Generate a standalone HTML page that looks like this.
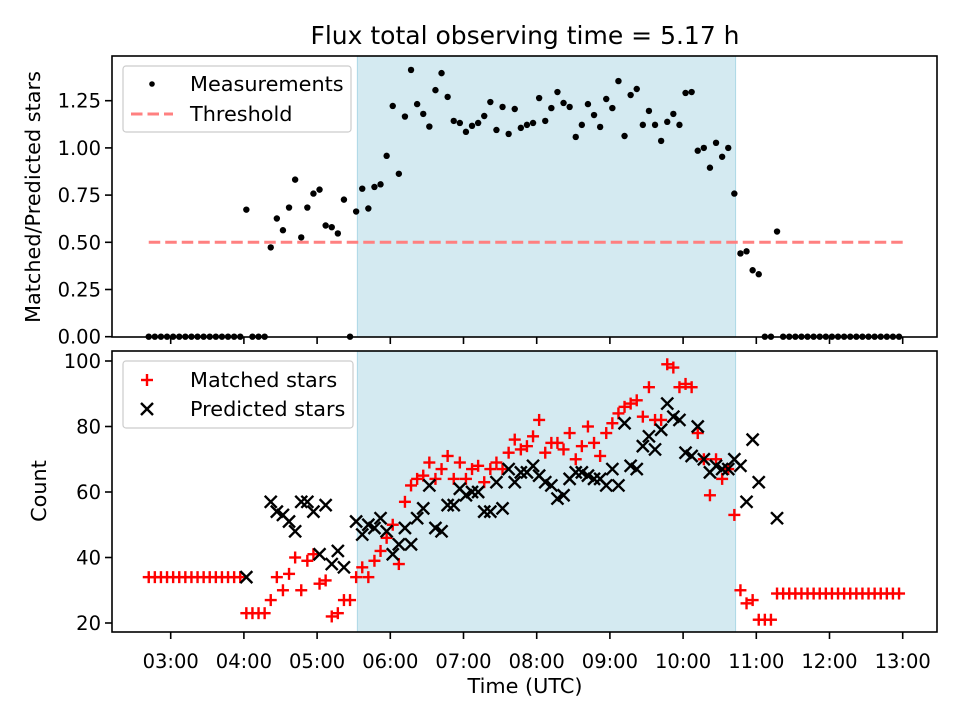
<!DOCTYPE html>
<html><head><meta charset="utf-8"><style>
body{margin:0;background:#fff}
svg{display:block;font-family:"DejaVu Sans","Liberation Sans",sans-serif}
</style></head><body>
<svg id="fig" width="960" height="720" viewBox="0 0 960 720" xmlns="http://www.w3.org/2000/svg">
<rect width="960" height="720" fill="#fff"/>
<text x="525" y="44" font-size="25" text-anchor="middle" fill="#000">Flux total observing time = 5.17 h</text>
<g id="top"></g><g id="bot"></g>
<text transform="translate(40,197) rotate(-90)" font-size="20.8" text-anchor="middle">Matched/Predicted stars</text>
<text transform="translate(46,491) rotate(-90)" font-size="20.8" text-anchor="middle">Count</text>
<text x="525" y="693" font-size="20.8" text-anchor="middle">Time (UTC)</text>
</svg>
<script>
const t0 = 2.70, stepH = 1/12;
const ratio = [0,0,0,0,0,0,0,0,0,0,0,0,0,0,0,0,
0.673,0,0,0,0.473,0.626,0.564,0.684,0.832,0.526,0.684,0.758,0.779,0.589,0.580,0.547,0.726,0,
0.663,0.784,0.679,0.793,0.807,0.958,1.222,0.863,1.166,1.413,1.232,1.18,1.113,1.306,1.396,1.27,
1.143,1.132,1.085,1.117,1.132,1.169,1.243,1.095,1.217,1.074,1.206,1.106,1.122,1.132,1.264,1.143,
1.211,1.296,1.238,1.217,1.058,1.122,1.232,1.174,1.111,1.259,1.211,1.354,1.063,1.28,1.312,1.122,
1.196,1.122,1.037,1.138,1.18,1.122,1.291,1.296,0.985,1.0,0.895,1.027,0.953,1.0,0.758,0.441,
0.452,0.352,0.331,0,0,0.557,
0,0,0,0,0,0,0,0,0,0,0,0,0,0,0,0,0,0,0,0];
const matched = [34,34,34,34,34,34,34,34,34,34,34,34,34,34,34,34,
23,23,23,23,27,34,30,35,40,30,39,41,32,33,22,23,27,27,
34,37,34,39,42,46,50,38,57,62,64,65,69,64,67,71,
64,69,64,67,68,63,67,69,67,72,76,73,74,77,82,72,
75,75,73,78,70,74,80,75,71,78,81,84,86,87,88,83,
92,82,82,99,98,92,93,92,78,70,59,70,64,67,53,30,
26,27,21,21,21,29,
29,29,29,29,29,29,29,29,29,29,29,29,29,29,29,29,29,29,29,29];
const predicted = [null,null,null,null,null,null,null,null,null,null,null,null,null,null,null,null,
34,null,null,null,57,54,53,51,48,57,57,54,41,56,38,42,37,null,
51,47,50,49,52,48,41,44,49,44,52,55,62,49,48,56,
56,61,59,60,60,54,54,63,55,67,63,66,66,68,65,63,
62,58,59,64,66,66,65,64,64,62,67,62,81,68,67,74,
77,73,79,87,83,82,72,71,80,70,66,68,67,67,70,68,
57,76,63,null,null,52,
null,null,null,null,null,null,null,null,null,null,null,null,null,null,null,null,null,null,null,null];
const xTickLabels = ["03:00","04:00","05:00","06:00","07:00","08:00","09:00","10:00","11:00","12:00","13:00"];
const xTickHours = [3,4,5,6,7,8,9,10,11,12,13];
const topTicks = [0,0.25,0.5,0.75,1.0,1.25];
const topTickLabels = ["0.00","0.25","0.50","0.75","1.00","1.25"];
const botTicks = [20,40,60,80,100];
const threshold = 0.5, thrStart = 2.7, thrEnd = 13.0;
const spanStart = 5.55, spanEnd = 10.717;

const NS="http://www.w3.org/2000/svg";
const L=112, R=937;
const FS=20.8, TFS=19.5;
const X = h => 170.7 + (h-3)*73.2;
const T = {top:56, bot:337, y: v => 336.7 - v*188.8};
const B = {top:351, bot:632, y: v => 623 - (v-20)*3.275};
function mk(p, tag, a){const e=document.createElementNS(NS,tag);for(const k in a)e.setAttribute(k,a[k]);p.appendChild(e);return e;}
const times = ratio.map((_,i)=>t0+i*stepH);

function axes(g, ax, name){
  const bg = mk(g,'rect',{x:L,y:ax.top,width:R-L,height:ax.bot-ax.top,fill:'#fff'});
  
  
  const sp = mk(g,'rect',{x:X(spanStart),y:ax.top,width:X(spanEnd)-X(spanStart),height:ax.bot-ax.top,fill:'#d4eaf1',stroke:'#add8e6','stroke-width':1});
  
  
}
function frame(g, ax, name){
  const f = mk(g,'rect',{x:L,y:ax.top,width:R-L,height:ax.bot-ax.top,fill:'none',stroke:'#000','stroke-width':1.6});
  
  
  xTickHours.forEach((h,k)=>{
    const tk = mk(g,'line',{x1:X(h),x2:X(h),y1:ax.bot,y2:ax.bot+7,stroke:'#000','stroke-width':1.6});
    
    
  });
}
const gt=document.getElementById('top');
axes(gt,T,'ratio');
const thr = mk(gt,'line',{x1:X(thrStart),x2:X(thrEnd),y1:T.y(threshold),y2:T.y(threshold),stroke:'#ff8080','stroke-width':3,'stroke-dasharray':'11.5,5'});


ratio.forEach((v,i)=>{
  const c = mk(gt,'circle',{cx:X(times[i]),cy:T.y(v),r:3.2,fill:'#000'});
  
  
});
frame(gt,T,'ratio');
topTicks.forEach((v,k)=>{
  const tk = mk(gt,'line',{x1:L-7,x2:L,y1:T.y(v),y2:T.y(v),stroke:'#000','stroke-width':1.6});
  
  
  const tl = mk(gt,'text',{x:L-11,y:T.y(v)+7,'font-size':TFS,'text-anchor':'end'});
  tl.textContent = topTickLabels[k];
  
  
});
(function(){
  const lg = mk(gt,'g',{});
  
  
  mk(lg,'rect',{x:123,y:66,width:228,height:66,rx:3,fill:'#fff','fill-opacity':0.8,stroke:'#ccc','stroke-width':1.2});
  const d = mk(lg,'circle',{cx:152,cy:84,r:2.8,fill:'#000'});
  
  
  const t1 = mk(lg,'text',{x:190,y:91,'font-size':FS});
  t1.textContent='Measurements';
  
  
  const ln = mk(lg,'line',{x1:131,x2:173,y1:114,y2:114,stroke:'#ff8080','stroke-width':3,'stroke-dasharray':'11.5,5'});
  
  
  const t2 = mk(lg,'text',{x:190,y:121,'font-size':FS});
  t2.textContent='Threshold';
  
  
})();
const gb=document.getElementById('bot');
axes(gb,B,'count');
function plus(p,cx,cy){const g=mk(p,'g',{stroke:'#f00','stroke-width':2.4});
  mk(g,'line',{x1:cx-6,x2:cx+6,y1:cy,y2:cy});mk(g,'line',{x1:cx,x2:cx,y1:cy-6,y2:cy+6});return g;}
function cross(p,cx,cy){const g=mk(p,'g',{stroke:'#000','stroke-width':2.4});
  mk(g,'line',{x1:cx-6,x2:cx+6,y1:cy-6,y2:cy+6});mk(g,'line',{x1:cx-6,x2:cx+6,y1:cy+6,y2:cy-6});return g;}
matched.forEach((v,i)=>{
  const m = plus(gb,X(times[i]),B.y(v));
  
  
});
predicted.forEach((v,i)=>{
  if(v===null) return;
  const m = cross(gb,X(times[i]),B.y(v));
  
  
});
frame(gb,B,'count');
botTicks.forEach(v=>{
  const tk = mk(gb,'line',{x1:L-7,x2:L,y1:B.y(v),y2:B.y(v),stroke:'#000','stroke-width':1.6});
  
  
  const tl = mk(gb,'text',{x:L-11,y:B.y(v)+7,'font-size':TFS,'text-anchor':'end'});
  tl.textContent = String(v);
  
  
});
xTickHours.forEach((h,k)=>{
  const tl = mk(gb,'text',{x:X(h),y:B.bot+36,'font-size':TFS,'text-anchor':'middle'});
  tl.textContent = xTickLabels[k];
  
  
});
(function(){
  const lg = mk(gb,'g',{});
  
  
  mk(lg,'rect',{x:123,y:361,width:230,height:67,rx:3,fill:'#fff','fill-opacity':0.8,stroke:'#ccc','stroke-width':1.2});
  const p = plus(lg,147,380);
  
  
  const t1 = mk(lg,'text',{x:190,y:387,'font-size':FS});
  t1.textContent='Matched stars';
  
  
  const c = cross(lg,147,409);
  
  
  const t2 = mk(lg,'text',{x:190,y:416,'font-size':FS});
  t2.textContent='Predicted stars';
  
  
})();
</script>
</body></html>
